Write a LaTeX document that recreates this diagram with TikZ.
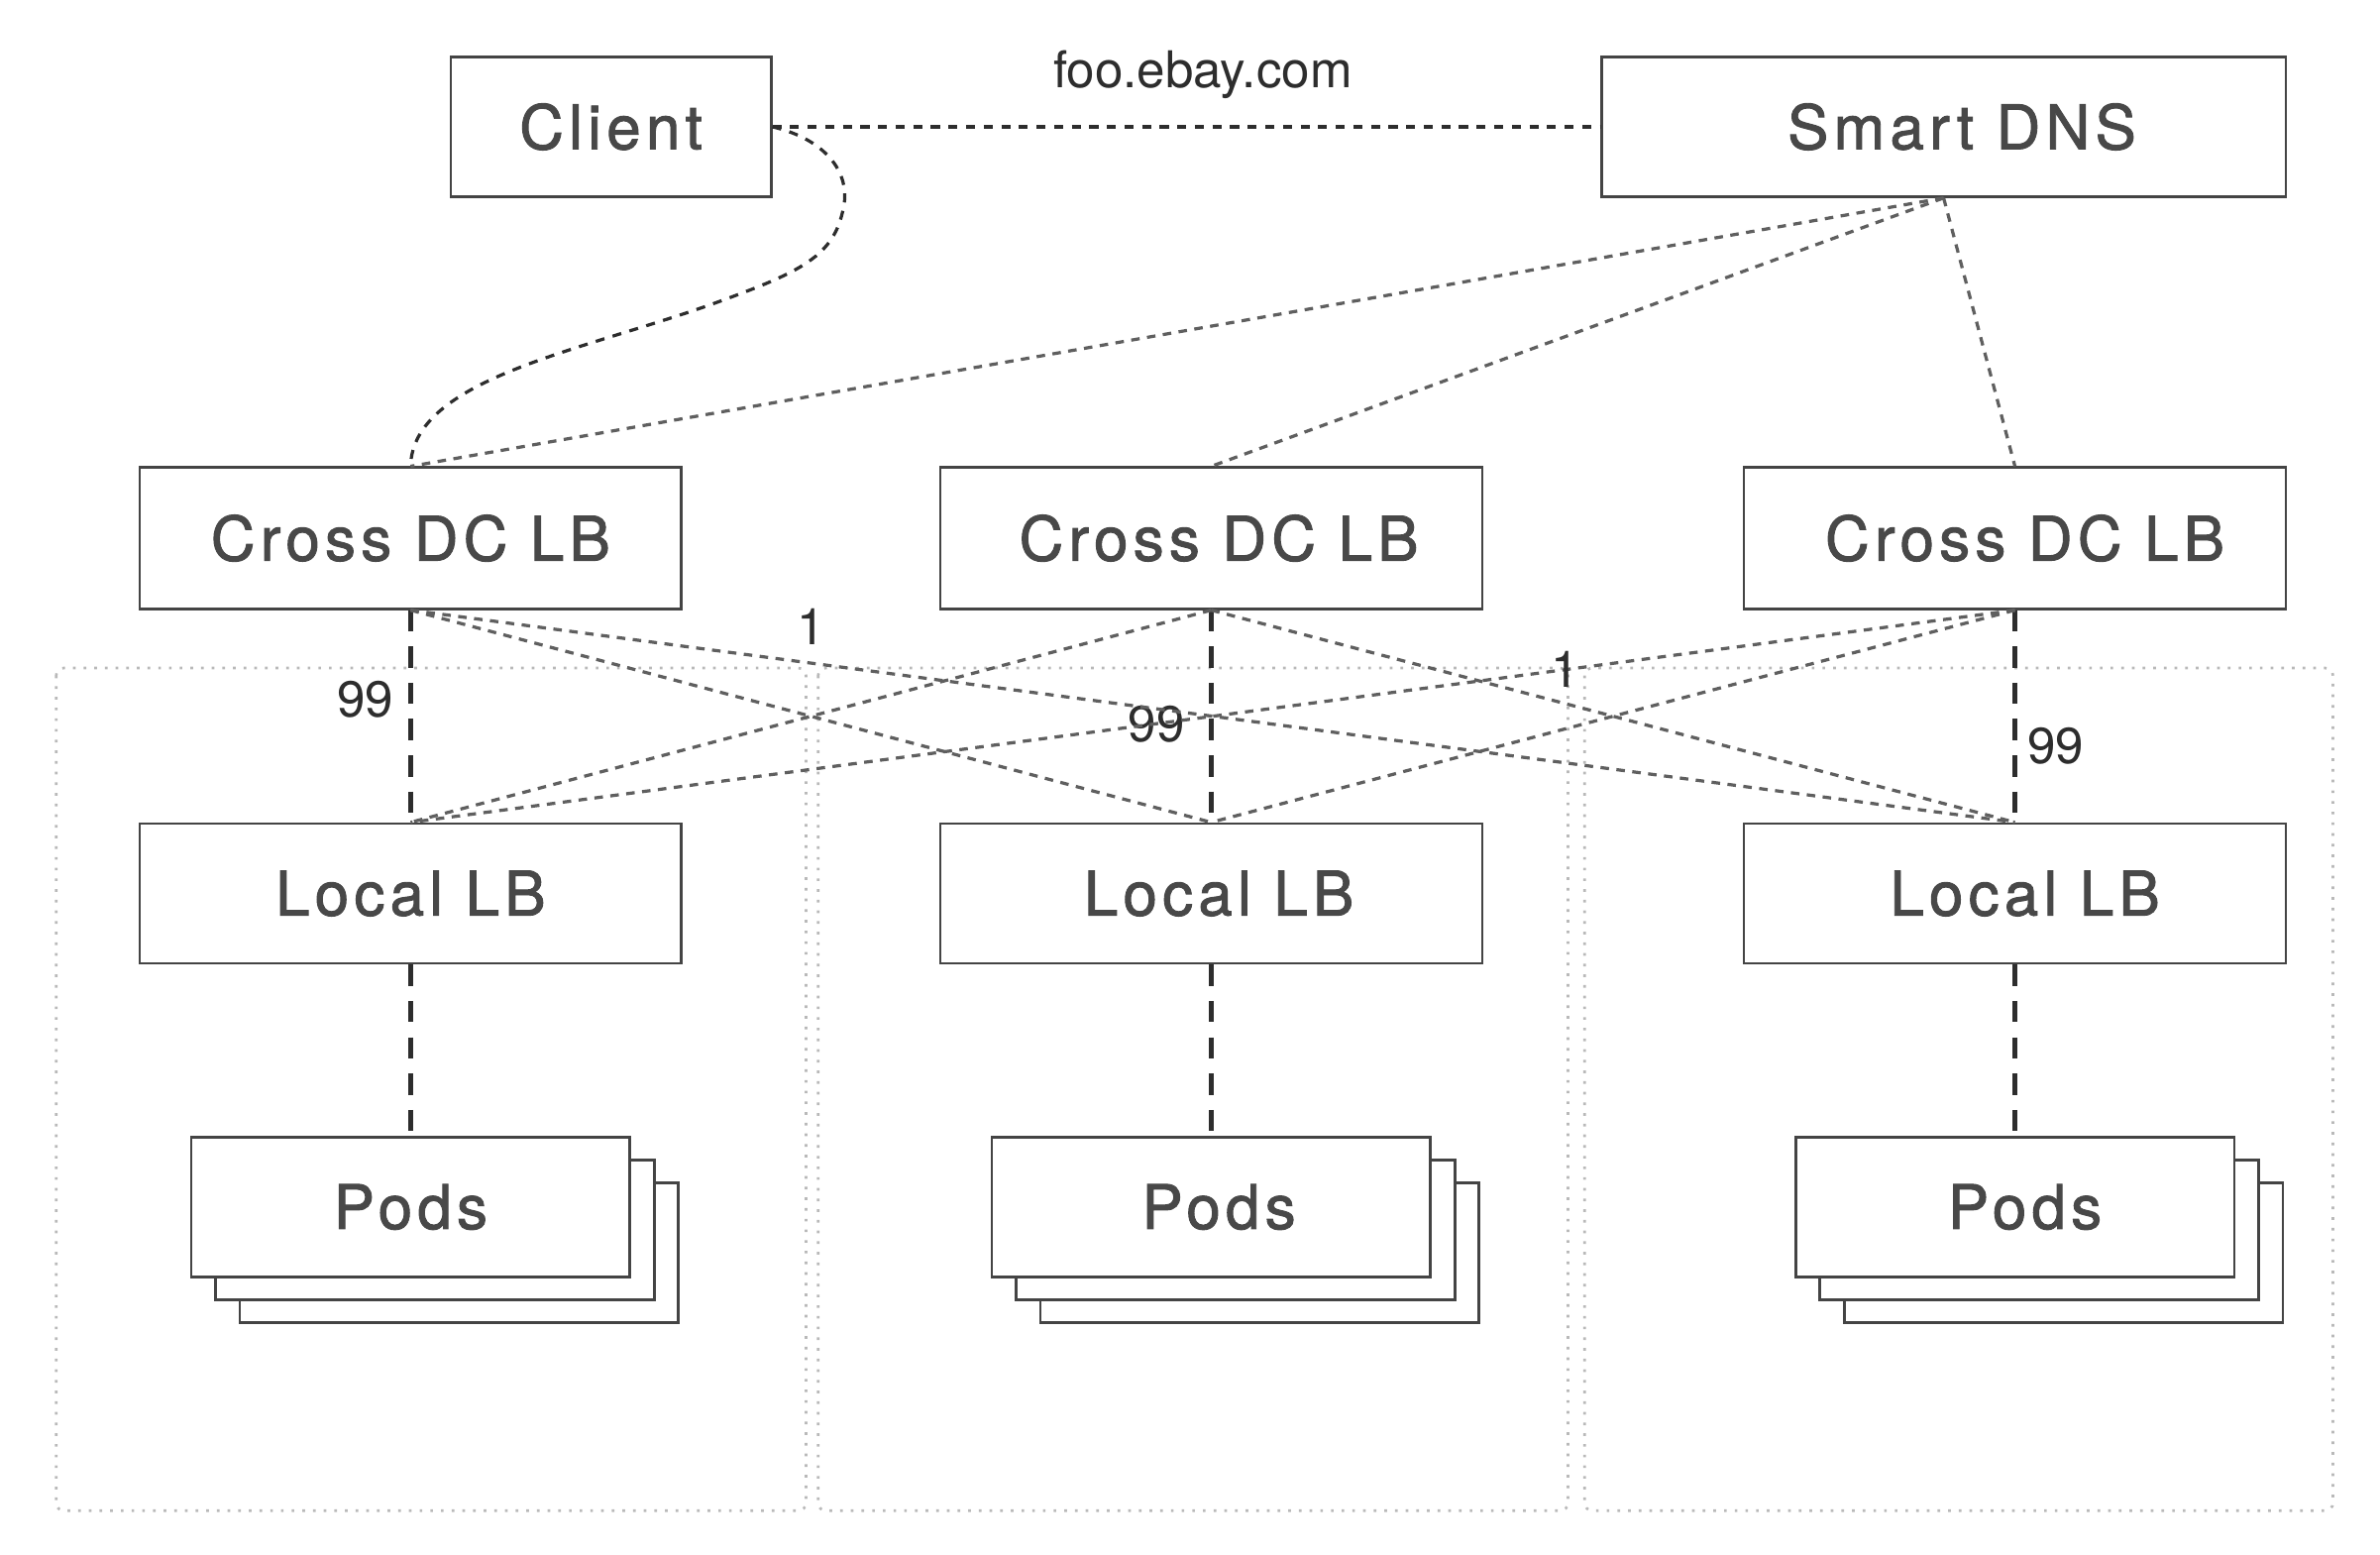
\documentclass[tikz,border=0pt]{standalone}
\usepackage{fontspec}
\setmainfont{TeX Gyre Heros}
\newfontfamily\boxschrift[LetterSpace=8.5, FakeBold=1.5]{TeX Gyre Heros}
\usetikzlibrary{shadows}

\definecolor{lb_schwarz}{RGB}{45,45,45}
\definecolor{lb_dunkelgrau}{RGB}{68,68,68}
\definecolor{lb_text}{RGB}{72,72,72}
\definecolor{lb_mittelgrau}{RGB}{95,95,95}
\definecolor{lb_hellgrau}{RGB}{185,185,185}

\begin{document}
\begin{tikzpicture}[
      x=0.1mm,
      y=-0.1mm,
      box/.style={
        draw=lb_dunkelgrau,
        line width=0.5pt,
        fill=white,
        minimum width=35.7mm,
        minimum height=9.2mm,
        inner sep=0pt,
        text=lb_text,
        font=\boxschrift\fontsize{11.5}{14}\selectfont
      },
      podbox/.style={
        box,
        minimum width=28.9mm,
        double copy shadow={shadow xshift=1.6mm, shadow yshift=-1.5mm, draw=lb_dunkelgrau, fill=white}
      },
      zahl/.style={
        inner sep=0pt,
        text=lb_schwarz,
        font=\fontsize{9.5}{11}\selectfont
      },
      dns/.style={
        draw=lb_schwarz,
        line width=0.6pt,
        dash pattern=on 1.7pt off 1.6pt
      },
      kreuz/.style={
        draw=lb_mittelgrau,
        line width=0.6pt,
        dash pattern=on 1.6pt off 1.4pt
      },
      gewicht/.style={
        draw=lb_schwarz,
        line width=0.8pt,
        dash pattern=on 4pt off 2.8pt
      },
      rechenzentrum/.style={
        draw=lb_hellgrau,
        line width=0.5pt,
        dash pattern=on 0.5pt off 1.5pt,
        rounded corners=0.5mm
      }
    ]

      \useasboundingbox (0,0) rectangle (1568,1023.6);

      % Rechenzentren
      \draw [rechenzentrum] (37,440) rectangle (531,995);
      \draw [rechenzentrum] (539,440) rectangle (1033,995);
      \draw [rechenzentrum] (1044,440) rectangle (1537,995);

      % Knoten
      \node [box, minimum width=21.1mm] (client) at (402.5,83.5) {Client};
      \node [box, minimum width=45.1mm] (dns) at (1280.5,83.5) {\hspace{2.4mm}Smart DNS};
      \foreach \i/\x/\d in {1/270.5/0mm, 2/798/1mm, 3/1327.5/1.3mm}
      {
        \node [box, minimum height=9.3mm] (cross\i) at (\x,354.5) {\hspace{\d}Cross DC LB};
        \node [box] (local\i) at (\x,588.5) {\hspace{\d}Local LB};
        \node [podbox] (pods\i) at (\x,795) {\hspace{\d}Pods};
      }

      % DNS
      \draw [dns] (client.east) -- node [zahl, pos=0.52, yshift=3.4mm] {foo.ebay.com} (dns.west);
      \draw [dns] (client.east) .. controls (545,92) and (562,115) .. (555,140)
        .. controls (548,170) and (525,180) .. (470,200)
        .. controls (380,232) and (272,250) .. (cross1.north);
      \foreach \i in {1,2,3}
        \draw [kreuz] (dns.south) -- (cross\i.north);

      % Gewichte
      \draw [gewicht] (cross1.south) -- node [zahl, pos=0.42, left=1mm] {99} (local1.north);
      \draw [gewicht] (cross2.south) -- node [zahl, pos=0.54, left=1.6mm] {99} (local2.north);
      \draw [gewicht] (cross3.south) -- node [zahl, pos=0.64, right=0.7mm] {99} (local3.north);
      \draw [kreuz] (cross1.south) -- node [zahl, pos=0.25, above=1.1mm] {1} (local3.north);
      \draw [kreuz] (cross3.south) -- node [zahl, pos=0.28] {1} (local1.north);
      \foreach \a/\b in {1/2, 2/1, 2/3, 3/2}
        \draw [kreuz] (cross\a.south) -- (local\b.north);

      % Pods
      \foreach \i in {1,2,3}
        \draw [gewicht] (local\i.south) -- (pods\i.north);
    \end{tikzpicture}
\end{document}
